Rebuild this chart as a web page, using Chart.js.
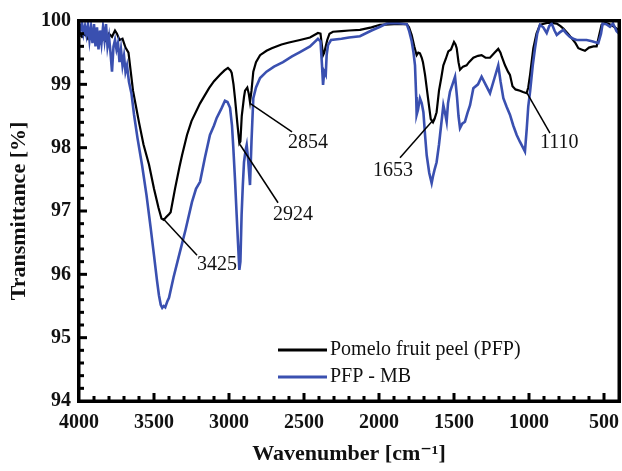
<!DOCTYPE html>
<html>
<head>
<meta charset="utf-8">
<script src="https://cdn.jsdelivr.net/npm/chart.js@4.4.0/dist/chart.umd.min.js"></script>
<style>
  html, body { margin: 0; padding: 0; background: #fff; overflow: hidden; }
  canvas { display: block; }
</style>
</head>
<body>
<canvas id="chart" width="622" height="471"></canvas>
<script>
// Pomelo fruit peel (PFP) spectrum
var pfpWave = [4000, 3980, 3960, 3940, 3920, 3900, 3880, 3860, 3840, 3820, 3800, 3780, 3760, 3747, 3730, 3710, 3690, 3670, 3655, 3640,
  3620, 3600, 3570, 3533, 3500, 3470, 3450, 3435, 3420, 3400, 3389, 3360, 3330, 3313, 3280, 3250, 3193, 3133, 3100, 3060,
  3030, 3007, 2990, 2982, 2970, 2960, 2945, 2931, 2924, 2915, 2900, 2893, 2878, 2868, 2860, 2850, 2838, 2820, 2793, 2750,
  2715, 2650, 2600, 2527, 2460, 2407, 2390, 2380, 2373, 2365, 2355, 2345, 2330, 2307, 2250, 2200, 2127, 2050, 1993, 1900,
  1815, 1800, 1782, 1765, 1749, 1738, 1727, 1715, 1707, 1693, 1673, 1655, 1640, 1630, 1616, 1600, 1585, 1571, 1555, 1538,
  1520, 1500, 1490, 1482, 1470, 1460, 1440, 1416, 1400, 1371, 1340, 1316, 1290, 1260, 1230, 1205, 1190, 1182, 1160, 1140,
  1127, 1110, 1090, 1060, 1040, 1016, 1005, 993, 980, 971, 950, 927, 880, 850, 815, 790, 771, 740, 716, 690,
  671, 650, 627, 600, 570, 549, 530, 516, 490, 473, 440, 416, 400];
var pfpValue = [99.8, 99.75, 99.8, 99.72, 99.78, 99.7, 99.75, 99.65, 99.72, 99.68, 99.8, 99.75, 99.85, 99.8, 99.7, 99.72, 99.58, 99.5, 99.2, 98.9,
  98.65, 98.4, 98.05, 97.73, 97.35, 97.05, 96.88, 96.86, 96.9, 96.95, 96.98, 97.35, 97.7, 97.88, 98.2, 98.42, 98.7, 98.94, 99.05, 99.15,
  99.22, 99.26, 99.22, 99.18, 99.0, 98.78, 98.4, 98.07, 98.1, 98.5, 98.8, 98.9, 98.95, 98.85, 98.72, 98.9, 99.2, 99.35, 99.46, 99.53,
  99.57, 99.63, 99.66, 99.7, 99.74, 99.81, 99.8, 99.6, 99.46, 99.5, 99.6, 99.7, 99.8, 99.83, 99.84, 99.85, 99.86, 99.9, 99.94, 99.95,
  99.95, 99.9, 99.78, 99.6, 99.46, 99.5, 99.49, 99.42, 99.35, 99.15, 98.78, 98.45, 98.4, 98.45, 98.56, 98.9, 99.1, 99.3, 99.4, 99.52,
  99.55, 99.67, 99.63, 99.57, 99.35, 99.23, 99.28, 99.3, 99.35, 99.42, 99.45, 99.46, 99.42, 99.42, 99.5, 99.56, 99.5, 99.44, 99.3, 99.2,
  99.15, 98.97, 98.92, 98.9, 98.88, 98.86, 98.95, 99.15, 99.4, 99.57, 99.8, 99.94, 99.97, 99.97, 99.96, 99.92, 99.88, 99.8, 99.73, 99.65,
  99.57, 99.55, 99.53, 99.58, 99.6, 99.6, 99.8, 99.94, 99.97, 99.96, 99.92, 99.88, 99.85];

// PFP after methylene blue adsorption
var mbWave = [4000, 3990, 3980, 3970, 3960, 3950, 3940, 3930, 3920, 3910, 3900, 3890, 3880, 3870, 3860, 3850, 3840, 3830, 3820, 3810,
  3800, 3790, 3780, 3770, 3760, 3750, 3740, 3730, 3720, 3710, 3700, 3690, 3680, 3667, 3650, 3633, 3610, 3580, 3550, 3522,
  3500, 3480, 3467, 3455, 3445, 3435, 3425, 3410, 3400, 3370, 3333, 3290, 3247, 3220, 3193, 3160, 3127, 3100, 3082, 3050,
  3027, 3010, 2993, 2980, 2971, 2960, 2949, 2940, 2931, 2924, 2916, 2908, 2900, 2890, 2882, 2872, 2860, 2850, 2838, 2820,
  2793, 2750, 2700, 2640, 2580, 2527, 2460, 2407, 2390, 2380, 2373, 2365, 2355, 2349, 2340, 2320, 2250, 2200, 2127, 2050,
  1993, 1950, 1900, 1850, 1815, 1800, 1782, 1770, 1760, 1752, 1749, 1740, 1727, 1715, 1704, 1693, 1682, 1665, 1649, 1640,
  1630, 1616, 1600, 1593, 1571, 1560, 1549, 1540, 1527, 1510, 1493, 1480, 1470, 1460, 1445, 1427, 1410, 1393, 1371, 1340,
  1316, 1290, 1260, 1230, 1205, 1190, 1171, 1150, 1127, 1105, 1082, 1060, 1040, 1027, 1015, 1005, 993, 975, 960, 945,
  927, 905, 882, 865, 849, 830, 815, 795, 771, 750, 727, 705, 682, 650, 616, 580, 538, 520, 509, 485,
  460, 440, 416, 400];
var mbValue = [99.95, 99.85, 99.97, 99.8, 99.92, 99.78, 99.95, 99.7, 99.9, 99.65, 99.95, 99.6, 99.9, 99.55, 99.85, 99.65, 99.9, 99.7, 99.95, 99.6,
  99.75, 99.5, 99.2, 99.6, 99.7, 99.55, 99.65, 99.35, 99.55, 99.3, 99.45, 99.2, 99.3, 99.04, 98.85, 98.52, 98.15, 97.73, 97.25, 96.73,
  96.3, 95.9, 95.67, 95.52, 95.47, 95.5, 95.48, 95.58, 95.63, 95.95, 96.3, 96.7, 97.14, 97.35, 97.46, 97.85, 98.2, 98.35, 98.47, 98.62,
  98.74, 98.72, 98.63, 98.35, 97.99, 97.5, 96.94, 96.5, 96.07, 96.2, 96.94, 97.4, 97.77, 97.95, 98.04, 97.8, 97.41, 98.1, 98.78, 98.95,
  99.1, 99.2, 99.28, 99.35, 99.44, 99.51, 99.6, 99.72, 99.68, 99.3, 98.99, 99.2, 99.15, 99.46, 99.62, 99.7, 99.72, 99.74, 99.76, 99.85,
  99.91, 99.96, 99.97, 99.96, 99.95, 99.85, 99.68, 99.5, 99.3, 98.8, 98.52, 98.6, 98.78, 98.7, 98.56, 98.2, 97.88, 97.6, 97.44, 97.55,
  97.65, 97.77, 98.05, 98.2, 98.67, 98.55, 98.41, 98.7, 98.88, 99.0, 99.12, 98.8, 98.5, 98.31, 98.38, 98.41, 98.55, 98.67, 98.94, 99.0,
  99.12, 99.0, 98.86, 99.1, 99.3, 99.05, 98.78, 98.65, 98.52, 98.35, 98.2, 98.09, 98.0, 97.94, 98.3, 98.65, 98.88, 99.3, 99.57, 99.8,
  99.94, 99.9, 99.81, 99.92, 99.96, 99.85, 99.78, 99.82, 99.86, 99.8, 99.75, 99.72, 99.7, 99.7, 99.7, 99.68, 99.65, 99.8, 99.96, 99.95,
  99.91, 99.96, 99.84, 99.8];

var seriesNames = ['Pomelo fruit peel (PFP)', 'PFP - MB'];
var xTickValues = [4000, 3500, 3000, 2500, 2000, 1500, 1000, 500];

// peak labels: where the leader starts, where it ends, where the text starts
var peakLabels = ['3425', '2924', '2854', '1653', '1110'];
var peakFromWave = [3440, 2927, 2860, 1627, 1013];
var peakFromValue = [96.88, 98.05, 98.7, 98.47, 98.86];
var peakToWave = [3213, 2673, 2580, 1860, 860];
var peakToValue = [96.3, 97.13, 98.25, 97.84, 98.23];
var peakTextWave = [3213, 2707, 2607, 2040, 927];
var peakTextValue = [96.15, 96.94, 98.07, 97.63, 98.07];

var serif = '"Liberation Serif", "Times New Roman", "DejaVu Serif", serif';

function toPoints(waves, values) {
  var pts = [];
  for (var i = 0; i < waves.length; i++) {
    pts.push({ x: waves[i], y: values[i] });
  }
  return pts;
}

var framePlugin = {
  id: 'frame',
  afterDraw: function(chart) {
    var c = chart.ctx;
    var a = chart.chartArea;
    var xs = chart.scales.x;
    var ys = chart.scales.y;
    var w, v, p, len, k, i;
    c.save();
    c.fillStyle = '#000';

    // inward ticks
    for (w = 500; w <= 3900; w += 100) {
      p = xs.getPixelForValue(w);
      len = (w % 500 === 0) ? 8 : 5;
      c.fillRect(p - 1.5, a.bottom - len, 3, len);
    }
    for (k = 1; k < 30; k++) {
      v = 94 + k * 0.2;
      p = ys.getPixelForValue(v);
      len = (k % 5 === 0) ? 8 : 5;
      c.fillRect(a.left, p - 1.5, len, 3);
    }

    // frame
    c.fillRect(a.left - 2, a.top - 2, a.right - a.left + 4, 3.5);
    c.fillRect(a.left - 2, a.bottom - 1.5, a.right - a.left + 4, 3.5);
    c.fillRect(a.left - 2, a.top - 2, 3.5, a.bottom - a.top + 4);
    c.fillRect(a.right - 1.5, a.top - 2, 3.5, a.bottom - a.top + 4);

    // peak labels with leader lines
    c.strokeStyle = '#000';
    c.lineWidth = 1.5;
    c.fillStyle = '#111';
    c.font = '20px ' + serif;
    c.textBaseline = 'middle';
    c.textAlign = 'left';
    for (i = 0; i < peakLabels.length; i++) {
      c.beginPath();
      c.moveTo(xs.getPixelForValue(peakFromWave[i]), ys.getPixelForValue(peakFromValue[i]));
      c.lineTo(xs.getPixelForValue(peakToWave[i]), ys.getPixelForValue(peakToValue[i]));
      c.stroke();
      c.fillText(peakLabels[i], xs.getPixelForValue(peakTextWave[i]), ys.getPixelForValue(peakTextValue[i]));
    }

    // legend inside the plot
    var lx = 278, ly = 350, gap = 27;
    chart.data.datasets.forEach(function(ds, j) {
      c.strokeStyle = ds.borderColor;
      c.lineWidth = 3;
      c.beginPath();
      c.moveTo(lx, ly + j * gap);
      c.lineTo(lx + 49, ly + j * gap);
      c.stroke();
      c.fillStyle = '#111';
      c.fillText(ds.label, lx + 52, ly + j * gap);
    });
    c.restore();
  }
};

var ctx = document.getElementById('chart').getContext('2d');
var chart = new Chart(ctx, {
  type: 'line',
  data: {
    datasets: [{
      label: seriesNames[0],
      data: toPoints(pfpWave, pfpValue),
      borderColor: '#000000',
      borderWidth: 2.2,
      pointRadius: 0,
      tension: 0,
      order: 2
    }, {
      label: seriesNames[1],
      data: toPoints(mbWave, mbValue),
      borderColor: '#3a50b0',
      borderWidth: 2.6,
      pointRadius: 0,
      tension: 0,
      order: 1
    }]
  },
  options: {
    responsive: false,
    animation: false,
    layout: { padding: { top: 21, right: 3, left: 0, bottom: 0 } },
    plugins: {
      legend: { display: false },
      tooltip: { enabled: false }
    },
    scales: {
      x: {
        type: 'linear',
        reverse: true,
        min: 400,
        max: 4000,
        afterBuildTicks: function(scale) {
          scale.ticks = xTickValues.map(function(t) { return { value: t }; });
        },
        afterFit: function(scale) {
          scale.height = 70;
          scale.paddingLeft = 0;
          scale.paddingRight = 0;
        },
        grid: { display: false, drawTicks: false },
        border: { display: false },
        ticks: {
          padding: 10,
          maxRotation: 0,
          autoSkip: false,
          color: '#111',
          font: { family: serif, size: 20, weight: 'bold' },
          callback: function(value) { return String(value); }
        },
        title: {
          display: true,
          text: 'Wavenumber [cm\u207B\u00B9]',
          color: '#111',
          padding: { top: 0, bottom: 3 },
          font: { family: serif, size: 22, weight: 'bold' }
        }
      },
      y: {
        min: 94,
        max: 100,
        afterFit: function(scale) {
          scale.width = 79;
          scale.paddingTop = 0;
          scale.paddingBottom = 0;
        },
        grid: { display: false, drawTicks: false },
        border: { display: false },
        ticks: {
          stepSize: 1,
          padding: 8,
          color: '#111',
          font: { family: serif, size: 20, weight: 'bold' },
          callback: function(value) { return String(value); }
        },
        title: {
          display: true,
          text: 'Transmittance [%]',
          color: '#111',
          padding: { top: 6, bottom: 0 },
          font: { family: serif, size: 22, weight: 'bold' }
        }
      }
    }
  },
  plugins: [framePlugin]
});
</script>
</body>
</html>
